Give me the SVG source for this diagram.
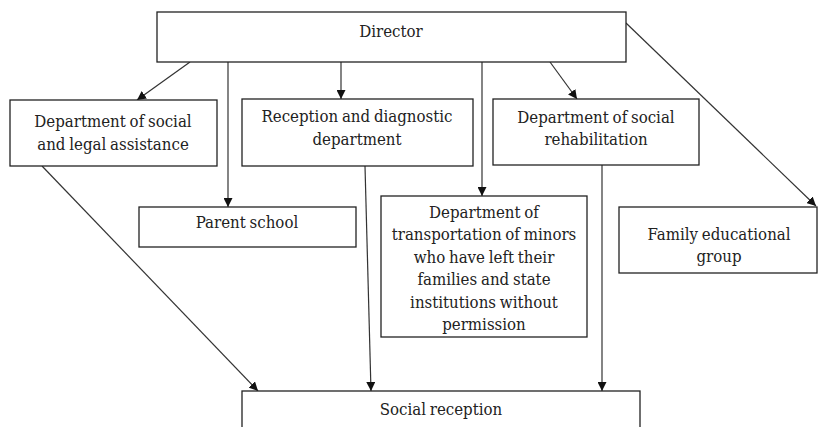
<svg xmlns="http://www.w3.org/2000/svg" width="818" height="427" viewBox="0 0 818 427">
<style>
.box{fill:#fff;stroke:#222;stroke-width:1.3}
.t{font-family:'DejaVu Serif Condensed','DejaVu Serif',serif;font-stretch:condensed;font-size:16.7px;word-spacing:-1px;fill:#222;text-anchor:middle}
.c{stroke:#333;stroke-width:1.2;fill:none;marker-end:url(#ah)}
</style>
<defs>
<marker id="ah" viewBox="0 0 10 10" refX="10" refY="5" markerWidth="9" markerHeight="9" markerUnits="userSpaceOnUse" orient="auto">
<path d="M0,0 L10,5 L0,10 z" fill="#111"/>
</marker>
</defs>
<rect width="818" height="427" fill="#fff"/>
<g id="connectors">
<line class="c" x1="190" y1="62" x2="137" y2="100"/>
<line class="c" x1="228" y1="62" x2="228" y2="207"/>
<line class="c" x1="341" y1="62" x2="341" y2="99"/>
<line class="c" x1="482" y1="62" x2="482" y2="196"/>
<line class="c" x1="550" y1="62" x2="577" y2="99"/>
<line class="c" x1="626" y1="23" x2="816" y2="206"/>
<line class="c" x1="42" y1="166" x2="258" y2="391"/>
<line class="c" x1="365" y1="166" x2="371" y2="391"/>
<line class="c" x1="602" y1="165" x2="602" y2="391"/>
</g>
<g id="director">
<rect class="box" x="157" y="12" width="469" height="50"/>
<text class="t" x="391" y="37">Director</text>
</g>
<g id="social-legal">
<rect class="box" x="10" y="100" width="207" height="66"/>
<text class="t" x="113" y="127">Department of social</text>
<text class="t" x="113" y="150">and legal assistance</text>
</g>
<g id="reception-diagnostic">
<rect class="box" x="242" y="99" width="231" height="67"/>
<text class="t" x="357" y="122">Reception and diagnostic</text>
<text class="t" x="357" y="145">department</text>
</g>
<g id="social-rehabilitation">
<rect class="box" x="493" y="99" width="206" height="66"/>
<text class="t" x="596" y="123">Department of social</text>
<text class="t" x="596" y="145">rehabilitation</text>
</g>
<g id="parent-school">
<rect class="box" x="139" y="207" width="217" height="40"/>
<text class="t" x="247" y="228">Parent school</text>
</g>
<g id="transportation">
<rect class="box" x="381" y="196" width="206" height="141"/>
<text class="t" x="484" y="218">Department of</text>
<text class="t" x="484" y="240.4">transportation of minors</text>
<text class="t" x="484" y="262.8">who have left their</text>
<text class="t" x="484" y="285.2">families and state</text>
<text class="t" x="484" y="307.6">institutions without</text>
<text class="t" x="484" y="330">permission</text>
</g>
<g id="family-group">
<rect class="box" x="619" y="207" width="198" height="66"/>
<text class="t" x="719" y="240">Family educational</text>
<text class="t" x="719" y="262">group</text>
</g>
<g id="social-reception">
<rect class="box" x="242" y="391" width="398" height="45"/>
<text class="t" x="441" y="415">Social reception</text>
</g>
</svg>
